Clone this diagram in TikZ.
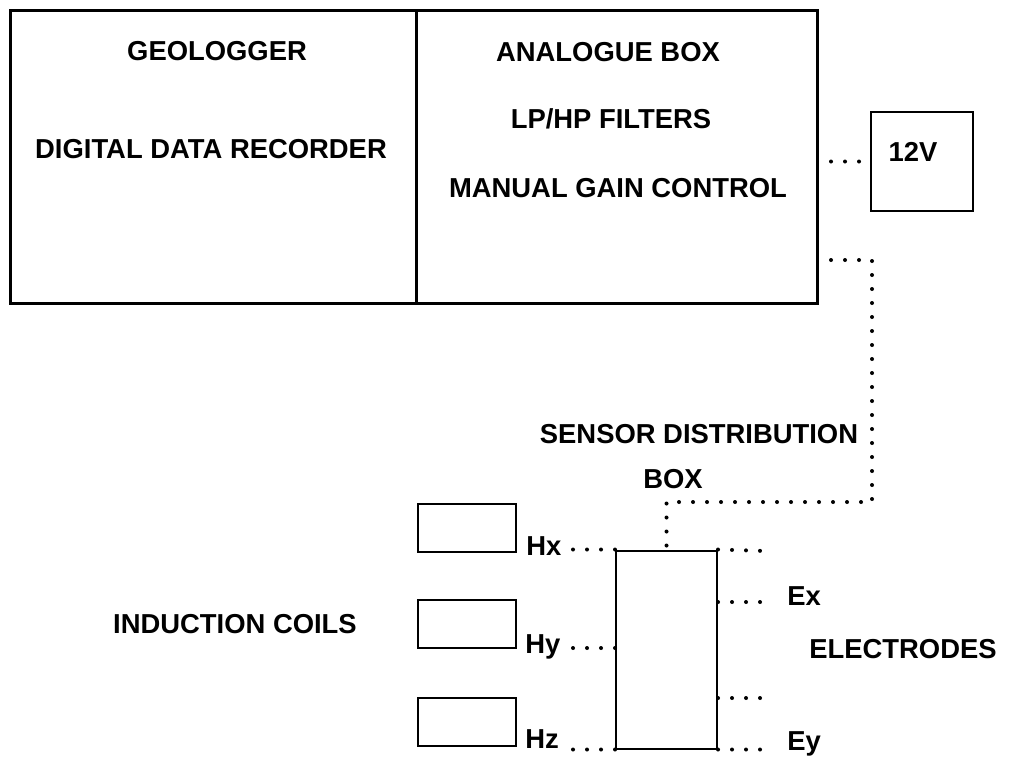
\documentclass[tikz,border=0pt]{standalone}
\usepackage{fontspec}
\setmainfont{Liberation Sans}
\usepackage{tikz}
\usetikzlibrary{positioning,calc}

\begin{document}
\begin{tikzpicture}[
    x=0.5pt, y=-0.5pt,
    lbl/.style ={inner sep=0pt, font=\fontsize{13.7}{16}\selectfont\bfseries},
    unit/.style={rectangle, draw, line width=1.5pt, outer sep=0pt},
    coil/.style={rectangle, draw, line width=1pt, minimum width=49pt, minimum height=24pt},
    wire/.style={line width=2pt, line cap=round, dash pattern=on 0pt off 7pt}
]
  \useasboundingbox (0,0) rectangle (1010,756);

  % recorder and analogue box
  \node[unit, minimum width=203pt, minimum height=146.5pt] (geo) at (213,156.5) {};
  \node[unit, minimum width=200.5pt, minimum height=146.5pt] (ana) at (616.5,156.5) {};
  \node[lbl] (geot) at (217,51)  {GEOLOGGER};
  \node[lbl] (geod) at (211,149) {DIGITAL DATA RECORDER};
  \node[lbl] (anat) at (608,52)  {ANALOGUE BOX};
  \node[lbl] (anaf) at (611,119) {LP/HP FILTERS};
  \node[lbl] (anag) at (618,188) {MANUAL GAIN CONTROL};

  % battery
  \node[coil, minimum width=51pt, minimum height=49.5pt] (psu) at (922,161.5) {};
  \node[lbl] (psut) at (913,152) {12V};

  % sensor distribution box
  \node[coil, minimum width=50.5pt, minimum height=99pt] (sdb) at (666.5,649.5) {};
  \node[lbl] (sdbt) at (699,434) {SENSOR DISTRIBUTION};
  \node[lbl] (sdbb) at (673,479) {BOX};

  % induction coils
  \node[coil] (cx) at (467,528) {};
  \node[coil] (cy) at (467,624) {};
  \node[coil] (cz) at (467,722) {};
  \node[lbl, anchor=base west] (hx) at (526,555) {Hx};
  \node[lbl, anchor=base west] (hy) at (525,653) {Hy};
  \node[lbl, anchor=base west] (hz) at (525,748) {Hz};
  \node[lbl] (coils) at (235,624) {INDUCTION COILS};

  % electrodes
  \node[lbl, anchor=base west] (ex) at (787,605) {Ex};
  \node[lbl, anchor=base west] (ey) at (787,750) {Ey};
  \node[lbl] (elec) at (903,649) {ELECTRODES};
  \coordinate (e1) at (766,551);
  \coordinate (e2) at (766,698);

  % wiring
  \coordinate (p1) at (872,260);
  \coordinate (p2) at (872,502);
  \draw[wire, shorten <=7pt] (psu.west -| ana.east) -- (psu.west);
  \draw[wire, shorten <=7pt] (p1 -| ana.east) -- (p1) -- (p2) -- (p2 -| sdb.north) -- (sdb.north);
  \draw[wire] (sdb.north west) -- ([xshift=3pt]hx.east |- sdb.north west);
  \draw[wire] (sdb.west |- 0,648) -- ([xshift=4pt]hy.east |- 0,648);
  \draw[wire] (sdb.south west) -- ([xshift=4pt]hz.east |- sdb.south west);
  \draw[wire] (sdb.north east) -- (e1);
  \draw[wire] (sdb.east |- 0,602) -- ([xshift=-10pt]ex.west |- 0,602);
  \draw[wire] (sdb.east |- e2) -- (e2);
  \draw[wire] (sdb.south east) -- ([xshift=-10pt]ey.west |- sdb.south east);
\end{tikzpicture}
\end{document}
